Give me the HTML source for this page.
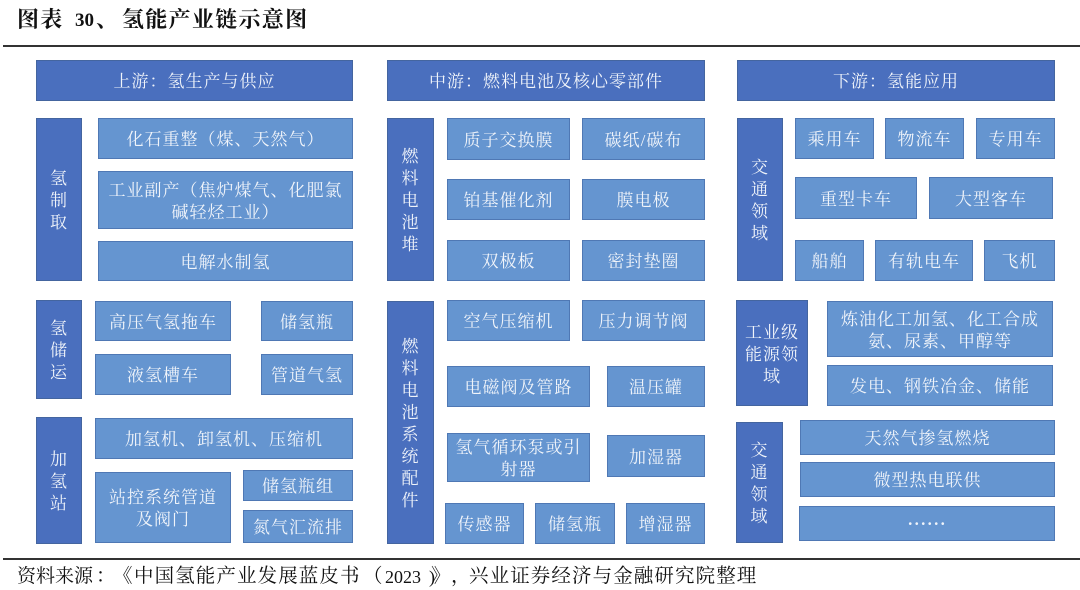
<!DOCTYPE html>
<html lang="zh"><head><meta charset="utf-8">
<style>
html,body{margin:0;padding:0;background:#fff}
#p{position:relative;width:1080px;height:590px;overflow:hidden;font-family:"Liberation Serif","Noto Serif CJK SC",serif;filter:blur(.35px)}
.b{position:absolute;box-sizing:border-box;display:flex;align-items:center;justify-content:center;text-align:center;color:#f0f4fa;font-size:17px;line-height:22px;letter-spacing:1px;border:1px solid #4f78b4;padding-top:3px}
.d{background:#4a6fbe;border-color:#44659f}
.l{background:#6595d0}
.t{position:absolute;white-space:nowrap;color:#111}
.h{font-size:22px;line-height:26px;font-weight:bold;letter-spacing:1.3px;top:7px}
.s{font-size:19.5px;line-height:26px;top:564px;letter-spacing:1.1px}
.r{position:absolute;left:3px;right:0;height:2px;background:#333}
</style></head><body><div id="p">
<div class="t h" style="left:17px">图表</div>
<div class="t h" style="left:75px;letter-spacing:0;font-size:19px;top:8px">30</div>
<div class="t h" style="left:96px">、</div>
<div class="t h" style="left:122px">氢能产业链示意图</div>
<div class="r" style="top:45px"></div>

<div class="b d" style="left:36px;top:60px;width:317px;height:41px">上游：氢生产与供应</div>
<div class="b d" style="left:36px;top:118px;width:46px;height:163px">氢<br>制<br>取</div>
<div class="b l" style="left:98px;top:118px;width:255px;height:41px">化石重整（煤、天然气）</div>
<div class="b l" style="left:98px;top:171px;width:255px;height:58px">工业副产（焦炉煤气、化肥氯<br>碱轻烃工业）</div>
<div class="b l" style="left:98px;top:241px;width:255px;height:40px">电解水制氢</div>
<div class="b d" style="left:36px;top:300px;width:46px;height:99px">氢<br>储<br>运</div>
<div class="b l" style="left:95px;top:301px;width:136px;height:40px">高压气氢拖车</div>
<div class="b l" style="left:261px;top:301px;width:92px;height:40px">储氢瓶</div>
<div class="b l" style="left:95px;top:354px;width:136px;height:41px">液氢槽车</div>
<div class="b l" style="left:261px;top:354px;width:92px;height:41px">管道气氢</div>
<div class="b d" style="left:36px;top:417px;width:46px;height:127px">加<br>氢<br>站</div>
<div class="b l" style="left:95px;top:418px;width:258px;height:41px">加氢机、卸氢机、压缩机</div>
<div class="b l" style="left:95px;top:472px;width:136px;height:71px">站控系统管道<br>及阀门</div>
<div class="b l" style="left:243px;top:470px;width:110px;height:31px">储氢瓶组</div>
<div class="b l" style="left:243px;top:510px;width:110px;height:33px">氮气汇流排</div>

<div class="b d" style="left:387px;top:60px;width:318px;height:41px">中游：燃料电池及核心零部件</div>
<div class="b d" style="left:387px;top:118px;width:47px;height:163px">燃<br>料<br>电<br>池<br>堆</div>
<div class="b l" style="left:447px;top:118px;width:123px;height:42px">质子交换膜</div>
<div class="b l" style="left:582px;top:118px;width:123px;height:42px">碳纸/碳布</div>
<div class="b l" style="left:447px;top:179px;width:123px;height:41px">铂基催化剂</div>
<div class="b l" style="left:582px;top:179px;width:123px;height:41px">膜电极</div>
<div class="b l" style="left:447px;top:240px;width:123px;height:41px">双极板</div>
<div class="b l" style="left:582px;top:240px;width:123px;height:41px">密封垫圈</div>
<div class="b d" style="left:387px;top:301px;width:47px;height:243px">燃<br>料<br>电<br>池<br>系<br>统<br>配<br>件</div>
<div class="b l" style="left:447px;top:300px;width:123px;height:41px">空气压缩机</div>
<div class="b l" style="left:582px;top:300px;width:123px;height:41px">压力调节阀</div>
<div class="b l" style="left:447px;top:366px;width:143px;height:41px">电磁阀及管路</div>
<div class="b l" style="left:607px;top:366px;width:98px;height:41px">温压罐</div>
<div class="b l" style="left:447px;top:433px;width:143px;height:49px">氢气循环泵或引<br>射器</div>
<div class="b l" style="left:607px;top:435px;width:98px;height:42px">加湿器</div>
<div class="b l" style="left:445px;top:503px;width:79px;height:41px">传感器</div>
<div class="b l" style="left:535px;top:503px;width:80px;height:41px">储氢瓶</div>
<div class="b l" style="left:626px;top:503px;width:79px;height:41px">增湿器</div>

<div class="b d" style="left:737px;top:60px;width:318px;height:41px">下游：氢能应用</div>
<div class="b d" style="left:737px;top:118px;width:46px;height:163px">交<br>通<br>领<br>域</div>
<div class="b l" style="left:795px;top:118px;width:79px;height:41px">乘用车</div>
<div class="b l" style="left:885px;top:118px;width:79px;height:41px">物流车</div>
<div class="b l" style="left:976px;top:118px;width:79px;height:41px">专用车</div>
<div class="b l" style="left:795px;top:177px;width:122px;height:42px">重型卡车</div>
<div class="b l" style="left:929px;top:177px;width:124px;height:42px">大型客车</div>
<div class="b l" style="left:795px;top:240px;width:69px;height:41px">船舶</div>
<div class="b l" style="left:875px;top:240px;width:98px;height:41px">有轨电车</div>
<div class="b l" style="left:984px;top:240px;width:71px;height:41px">飞机</div>
<div class="b d" style="left:736px;top:300px;width:72px;height:106px">工业级<br>能源领<br>域</div>
<div class="b l" style="left:827px;top:301px;width:226px;height:56px">炼油化工加氢、化工合成<br>氨、尿素、甲醇等</div>
<div class="b l" style="left:827px;top:365px;width:226px;height:41px">发电、钢铁冶金、储能</div>
<div class="b d" style="left:736px;top:422px;width:47px;height:121px">交<br>通<br>领<br>域</div>
<div class="b l" style="left:800px;top:420px;width:255px;height:35px">天然气掺氢燃烧</div>
<div class="b l" style="left:800px;top:462px;width:255px;height:35px">微型热电联供</div>
<div class="b l" style="left:799px;top:506px;width:256px;height:35px;padding-top:0;font-weight:bold;letter-spacing:1px;font-size:16.5px">······</div>

<div class="r" style="top:558px"></div>
<div class="t s" style="left:17px;letter-spacing:0;font-size:19px">资料来源</div>
<div class="t s" style="left:96px">：</div>
<div class="t s" style="left:113px">《</div>
<div class="t s" style="left:134px">中国氢能产业发展蓝皮书</div>
<div class="t s" style="left:363px">（</div>
<div class="t s" style="left:385px;letter-spacing:0;font-size:18px">2023</div>
<div class="t s" style="left:429px;letter-spacing:0;font-size:18px">)</div>
<div class="t s" style="left:431px">》</div>
<div class="t s" style="left:451px">，</div>
<div class="t s" style="left:469px">兴业证券经济与金融研究院整理</div>
</div></body></html>
